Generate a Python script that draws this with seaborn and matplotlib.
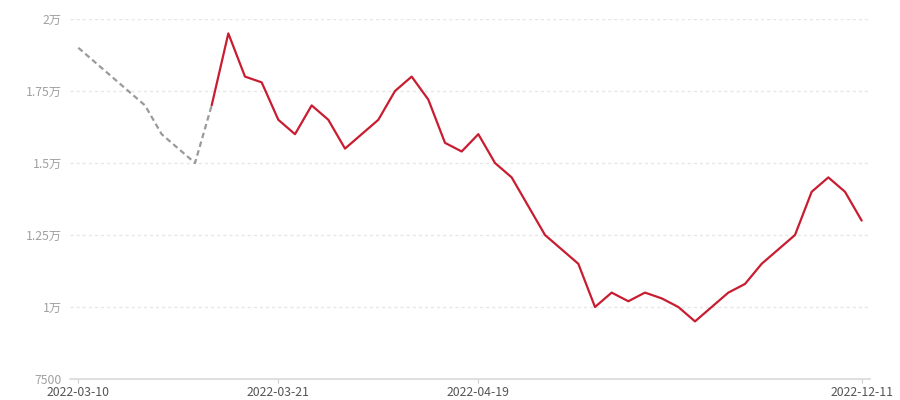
import numpy as np
import pandas as pd
import matplotlib
matplotlib.use("Agg")
import matplotlib.pyplot as plt
import seaborn as sns

# values, one per category slot (48 slots)
est_values = [19000, 18500, 18000, 17500, 17000, 16000, 15500, 15000, 17000]
actual_values = [17000, 19500, 18000, 17800, 16500, 16000, 17000, 16500, 15500,
                 16000, 16500, 17500, 18000, 17200, 15700, 15400, 16000, 15000,
                 14500, 13500, 12500, 12000, 11500, 10000, 10500, 10200, 10500,
                 10300, 10000, 9500, 10000, 10500, 10800, 11500, 12000, 12500,
                 14000, 14500, 14000, 13000]
actual_start = 8

tick_pos = [0, 12, 24, 47]
tick_labels = ["2022-03-10", "2022-03-21", "2022-04-19", "2022-12-11"]
y_ticks = [7500, 10000, 12500, 15000, 17500, 20000]

sns.set_style("white")
plt.rcParams["font.family"] = ["Noto Sans CJK SC", "DejaVu Sans"]


def fmt_wan(v):
    if v >= 10000:
        s = ("%.2f" % (v / 10000)).rstrip("0").rstrip(".")
        return s + "万"
    return "%d" % v


est = pd.DataFrame({"idx": np.arange(len(est_values)), "value": est_values})
act = pd.DataFrame({"idx": np.arange(actual_start, actual_start + len(actual_values)),
                    "value": actual_values})

fig = plt.figure(figsize=(9, 4), dpi=100)
ax = fig.add_axes([70 / 900, 21 / 400, 800 / 900, 360 / 400])

for y in y_ticks[1:]:
    ax.axhline(y, color="#e6e6e6", lw=1, linestyle=(0, (2.2, 2.2)), zorder=0)

sns.lineplot(data=est, x="idx", y="value", ax=ax, color="#9a9a9a", lw=1.6,
             linestyle=(0, (2.5, 1.6)))
sns.lineplot(data=act, x="idx", y="value", ax=ax, color="#c81d31", lw=1.6)

ax.set_xlim(-0.5, 47.5)
ax.set_ylim(7500, 20000)
ax.set_xlabel("")
ax.set_ylabel("")

ax.set_xticks(tick_pos)
ax.set_xticklabels(tick_labels, fontsize=8.8, color="#555555")
ax.set_yticks(y_ticks)
ax.set_yticklabels([fmt_wan(v) for v in y_ticks], fontsize=8.8, color="#a0a0a0")
ax.tick_params(axis="x", length=3, width=0.8, color="#cccccc", pad=2, bottom=True)
ax.tick_params(axis="y", length=0, pad=6)

for side in ["top", "right", "left"]:
    ax.spines[side].set_visible(False)
ax.spines["bottom"].set_color("#d9d9d9")
ax.spines["bottom"].set_linewidth(1.2)

fig.savefig("out.png", dpi=100)
